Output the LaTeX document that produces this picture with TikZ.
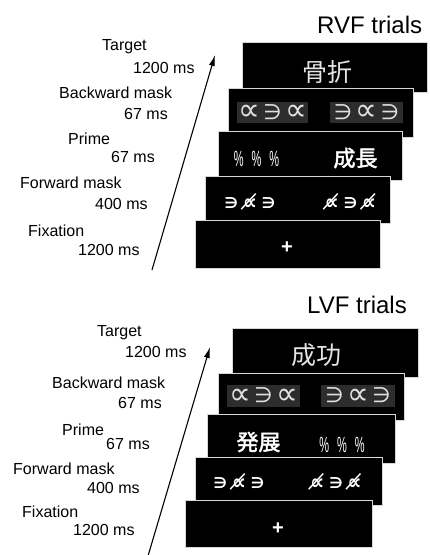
\documentclass[tikz,border=0pt]{standalone}
\usepackage{fontspec}
\setmainfont{Liberation Sans}
\newfontfamily\cjk{Noto Sans CJK JP}
\newfontfamily\cjkb[FakeBold=2]{Noto Sans CJK JP}
\newfontfamily\symf{DejaVu Sans}
\usetikzlibrary{arrows.meta}
\definecolor{maskbg}{RGB}{45,45,45}
\definecolor{rim}{RGB}{215,215,215}
\newcommand{\pc}{\scalebox{0.5}[1]{\%}}
\newcommand{\prp}{\raisebox{-0.08em}{\scalebox{1.45}[1.5]{∝}}}
\newcommand{\nprp}{\raisebox{-0.05em}{\scalebox{1.3}[1.4]{∝̸}}}
\begin{document}
\begin{tikzpicture}[x=1pt,y=-1pt,
  screen/.style={draw=rim,line width=0.8pt,fill=black,anchor=north west,inner sep=0pt,minimum width=185pt,minimum height=48pt},
  lbl/.style={anchor=west,inner sep=0pt,font=\fontsize{16}{18}\selectfont},
  ttl/.style={anchor=west,inner sep=0pt,font=\fontsize{24}{28}\selectfont},
  maskbox/.style={fill=maskbg,inner sep=0pt,minimum height=21pt,text=white!88!black,font=\symf\fontsize{21}{22}\selectfont},
  fwd/.style={inner sep=0pt,text=white,font=\symf\bfseries\fontsize{15}{16}\selectfont},
  tgt/.style={inner sep=0pt,text=white!90!black,font=\cjk\fontsize{25}{27}\selectfont},
  prm/.style={inner sep=0pt,text=white,font=\cjkb\fontsize{22}{24}\selectfont},
  pct/.style={inner sep=0pt,text=white,font=\fontsize{22}{24}\selectfont},
  fix/.style={inner sep=0pt,text=white,font=\bfseries\fontsize{20}{22}\selectfont},
  time/.style={line width=1.1pt,-{Latex[length=11pt,width=6pt]}}]
\useasboundingbox (0,0) rectangle (429,555);

% ---------- RVF ----------
\node[ttl] (rvf) at (317,25) {RVF trials};
\node[screen,minimum width=185pt,minimum height=50pt] (rT) at (242,42) {};
\node[screen,minimum width=185pt,minimum height=49pt] (rB) at (228,88) {};
\node[screen,minimum width=184pt,minimum height=49pt] (rP) at (218,131) {};
\node[screen,minimum width=185pt,minimum height=47pt] (rF) at (205,176) {};
\node[screen,minimum width=185pt,minimum height=48pt] (rX) at (195,220) {};

\node[tgt] (rTt) at (327.5,72) {骨折};
\node[maskbox,minimum width=71pt] (rBl) at (272.5,112.5) {\prp\,∋\,\prp};
\node[maskbox,minimum width=73pt] (rBr) at (366.5,112.5) {∋\,\prp\,∋};
\node[pct] (rPl) at (256.5,159) {\pc\hspace{8pt}\pc\hspace{8pt}\pc};
\node[prm] (rPr) at (355.5,158) {成長};
\node[fwd] (rFl) at (250,202) {∋\hspace{5pt}\nprp\hspace{5pt}∋};
\node[fwd] (rFr) at (350.5,202) {\nprp\hspace{5pt}∋\hspace{5pt}\nprp};
\node[fix] (rXt) at (287,248) {+};

\node[lbl] (rl1) at (102,47) {Target};
\node[lbl] (rl2) at (133,68) {1200 ms};
\node[lbl] (rl3) at (59,93) {Backward mask};
\node[lbl] (rl4) at (124,114) {67 ms};
\node[lbl] (rl5) at (68,139) {Prime};
\node[lbl] (rl6) at (111,157) {67 ms};
\node[lbl] (rl7) at (20,183) {Forward mask};
\node[lbl] (rl8) at (95,204) {400 ms};
\node[lbl] (rl9) at (28,231) {Fixation};
\node[lbl] (rl10) at (78,250) {1200 ms};

\coordinate (ra0) at (152,270);
\coordinate (ra1) at (215,55);
\draw[time] (ra0) -- (ra1);

% ---------- LVF ----------
\node[ttl] (lvf) at (307,305) {LVF trials};
\node[screen,minimum width=186pt,minimum height=49pt] (lT) at (232,328) {};
\node[screen,minimum width=186pt,minimum height=47pt] (lB) at (218,373) {};
\node[screen,minimum width=188pt,minimum height=49pt] (lP) at (207,414) {};
\node[screen,minimum width=187pt,minimum height=48pt] (lF) at (195,457) {};
\node[screen,minimum width=187pt,minimum height=47pt] (lX) at (185,500) {};

\node[tgt] (lTt) at (316,355) {成功};
\node[maskbox,minimum width=73pt,minimum height=22pt] (lBl) at (263.5,396) {\prp\,∋\,\prp};
\node[maskbox,minimum width=74pt,minimum height=22pt] (lBr) at (358,396) {∋\,\prp\,∋};
\node[prm] (lPl) at (258.5,442) {発展};
\node[pct] (lPr) at (342,445) {\pc\hspace{8pt}\pc\hspace{8pt}\pc};
\node[fwd] (lFl) at (239,482) {∋\hspace{5pt}\nprp\hspace{5pt}∋};
\node[fwd] (lFr) at (336,482) {\nprp\hspace{5pt}∋\hspace{5pt}\nprp};
\node[fix] (lXt) at (278,529) {+};

\node[lbl] (ll1) at (97,333) {Target};
\node[lbl] (ll2) at (125,352) {1200 ms};
\node[lbl] (ll3) at (52,383) {Backward mask};
\node[lbl] (ll4) at (118,403) {67 ms};
\node[lbl] (ll5) at (62,430) {Prime};
\node[lbl] (ll6) at (106,444) {67 ms};
\node[lbl] (ll7) at (13,469) {Forward mask};
\node[lbl] (ll8) at (87,488) {400 ms};
\node[lbl] (ll9) at (22,512) {Fixation};
\node[lbl] (ll10) at (73,530) {1200 ms};

\coordinate (la0) at (148,556);
\coordinate (la1) at (210,347);
\draw[time] (la0) -- (la1);
\end{tikzpicture}
\end{document}
